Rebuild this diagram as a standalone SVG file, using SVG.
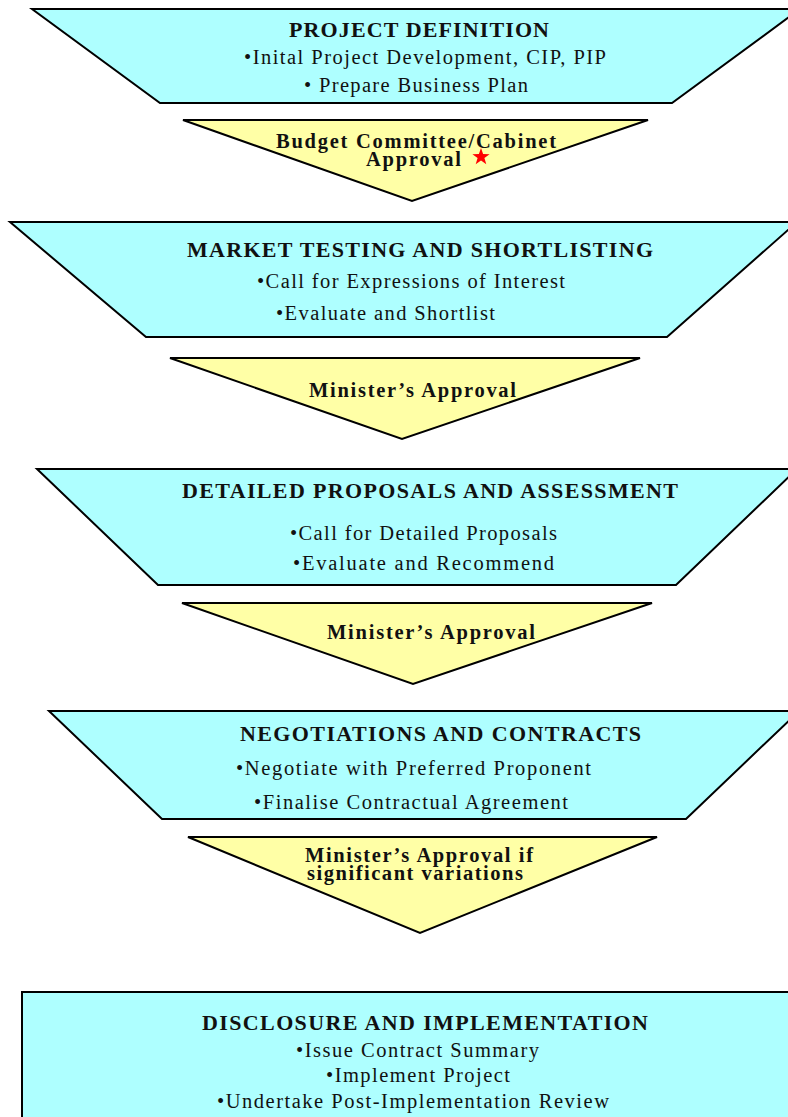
<svg xmlns="http://www.w3.org/2000/svg" width="788" height="1117" viewBox="0 0 788 1117">
  <style>
    .stage { fill: #AEFFFF; stroke: #000; stroke-width: 2; stroke-linejoin: miter; }
    .gate { fill: #FFFFA6; stroke: #000; stroke-width: 2; stroke-linejoin: miter; }
    text { font-family: "Liberation Serif", "Times New Roman", serif; fill: #111; }
    .title { font-size: 22px; font-weight: bold; }
    .item { font-size: 20.5px; }
    .gtext { font-size: 20.5px; font-weight: bold; }
  </style>
  <rect width="788" height="1117" fill="#fff"/>

  <!-- process stages (inverted trapezoids) and approval gates (downward triangles) -->
  <g id="project-definition">
    <polygon class="stage" points="32,9 800,9 672,103 160,103"/>
    <text class="title" x="289" y="37" textLength="260" lengthAdjust="spacing">PROJECT DEFINITION</text>
    <text class="item" x="244" y="64" textLength="362" lengthAdjust="spacing">•Inital Project Development, CIP, PIP</text>
    <text class="item" x="304" y="92" textLength="224" lengthAdjust="spacing">• Prepare Business Plan</text>
  </g>

  <g id="budget-approval">
    <polygon class="gate" points="183,120 648,120 412,201"/>
    <text class="gtext" x="276" y="148" textLength="280" lengthAdjust="spacing">Budget Committee/Cabinet</text>
    <text class="gtext" x="366" y="166" textLength="95" lengthAdjust="spacing">Approval</text>
    <polygon fill="#FF0000" points="481,148 483.1,154.1 489.6,154.2 484.4,158.1 486.3,164.3 481,160.6 475.7,164.3 477.6,158.1 472.4,154.2 478.9,154.1"/>
  </g>

  <g id="market-testing">
    <polygon class="stage" points="10,222 797,222 667,337 146,337"/>
    <text class="title" x="187" y="257" textLength="466" lengthAdjust="spacing">MARKET TESTING AND SHORTLISTING</text>
    <text class="item" x="257" y="288" textLength="308" lengthAdjust="spacing">•Call for Expressions of Interest</text>
    <text class="item" x="276" y="320" textLength="219" lengthAdjust="spacing">•Evaluate and Shortlist</text>
  </g>

  <g id="minister-approval-1">
    <polygon class="gate" points="170,358 640,358 402,439"/>
    <text class="gtext" x="309" y="397" textLength="207" lengthAdjust="spacing">Minister’s Approval</text>
  </g>

  <g id="detailed-proposals">
    <polygon class="stage" points="37,469 797,469 676,585 158,585"/>
    <text class="title" x="182" y="498" textLength="496" lengthAdjust="spacing">DETAILED PROPOSALS AND ASSESSMENT</text>
    <text class="item" x="290" y="540" textLength="267" lengthAdjust="spacing">•Call for Detailed Proposals</text>
    <text class="item" x="293" y="570" textLength="261" lengthAdjust="spacing">•Evaluate and Recommend</text>
  </g>

  <g id="minister-approval-2">
    <polygon class="gate" points="182,603 652,603 413,684"/>
    <text class="gtext" x="327" y="639" textLength="208" lengthAdjust="spacing">Minister’s Approval</text>
  </g>

  <g id="negotiations">
    <polygon class="stage" points="49,711 799,711 686,819 162,819"/>
    <text class="title" x="240" y="741" textLength="401" lengthAdjust="spacing">NEGOTIATIONS AND CONTRACTS</text>
    <text class="item" x="236" y="775" textLength="355" lengthAdjust="spacing">•Negotiate with Preferred Proponent</text>
    <text class="item" x="254" y="809" textLength="314" lengthAdjust="spacing">•Finalise Contractual Agreement</text>
  </g>

  <g id="minister-approval-3">
    <polygon class="gate" points="188,837 657,837 420,933"/>
    <text class="gtext" x="305" y="862" textLength="228" lengthAdjust="spacing">Minister’s Approval if</text>
    <text class="gtext" x="307" y="880" textLength="216" lengthAdjust="spacing">significant variations</text>
  </g>

  <g id="disclosure">
    <rect class="stage" x="22" y="992" width="780" height="140"/>
    <text class="title" x="202" y="1030" textLength="446" lengthAdjust="spacing">DISCLOSURE AND IMPLEMENTATION</text>
    <text class="item" x="296" y="1057" textLength="243" lengthAdjust="spacing">•Issue Contract Summary</text>
    <text class="item" x="326" y="1082" textLength="184" lengthAdjust="spacing">•Implement Project</text>
    <text class="item" x="217" y="1108" textLength="392" lengthAdjust="spacing">•Undertake Post-Implementation Review</text>
  </g>

  <g id="connectors"/>
</svg>
